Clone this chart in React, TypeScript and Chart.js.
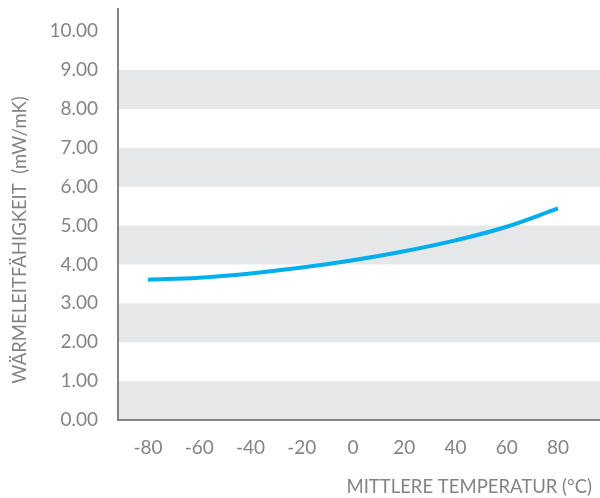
import React, { useEffect, useRef } from "react";
import { Chart, registerables } from "chart.js";

Chart.register(...registerables);

const temperatures = [-80, -60, -40, -20, 0, 20, 40, 60, 80];
const conductivity = [3.61, 3.66, 3.77, 3.92, 4.11, 4.34, 4.62, 4.97, 5.44];
const xTickValues = [-80, -60, -40, -20, 0, 20, 40, 60, 80];
const yTickValues = [0, 1, 2, 3, 4, 5, 6, 7, 8, 9, 10];
const bandStarts = [0, 2, 4, 6, 8];
const yTitle = "WÄRMELEITFÄHIGKEIT  (mW/mK)";
const xTitle = "MITTLERE TEMPERATUR (°C)";

const FONT = "Lato, 'Open Sans', sans-serif";
const GREY = "#848484";

const bandsPlugin = {
  id: "bands",
  beforeDraw(chart: any) {
    const { ctx, chartArea, scales } = chart;
    const y = scales.y;
    ctx.save();
    ctx.fillStyle = "#e6e7e8";
    for (const b of bandStarts) {
      const top = y.getPixelForValue(b + 1);
      const bottom = y.getPixelForValue(b);
      ctx.fillRect(chartArea.left, top, chartArea.right - chartArea.left, bottom - top);
    }
    ctx.restore();
  },
};

const titlesPlugin = {
  id: "titles",
  afterDraw(chart: any) {
    const { ctx } = chart;
    ctx.save();
    ctx.fillStyle = GREY;
    ctx.font = `18.5px ${FONT}`;
    ctx.textBaseline = "middle";
    ctx.save();
    ctx.translate(20, 240);
    ctx.rotate(-Math.PI / 2);
    ctx.textAlign = "center";
    ctx.fillText(yTitle, 0, 0);
    ctx.restore();
    ctx.textAlign = "right";
    ctx.fillText(xTitle, 592, 487);
    ctx.restore();
  },
};

export default function App() {
  const canvasRef = useRef<HTMLCanvasElement | null>(null);

  useEffect(() => {
    const canvas = canvasRef.current;
    if (!canvas) return;
    const chart = new Chart(canvas, {
      type: "line",
      data: {
        datasets: [
          {
            data: temperatures.map((t, i) => ({ x: t, y: conductivity[i] })),
            borderColor: "#00aeef",
            borderWidth: 4,
            pointRadius: 0,
            tension: 0.4,
            fill: false,
            borderCapStyle: "butt",
          },
        ],
      },
      options: {
        animation: false,
        responsive: false,
        maintainAspectRatio: false,
        layout: { padding: { top: 9, left: 0, right: 0, bottom: 0 } },
        plugins: {
          legend: { display: false },
          tooltip: { enabled: false },
        },
        scales: {
          x: {
            type: "linear",
            min: -91.7,
            max: 96.4,
            afterBuildTicks: (scale: any) => {
              scale.ticks = xTickValues.map((v) => ({ value: v }));
            },
            afterFit: (scale: any) => {
              scale.height = 78;
              scale.paddingLeft = 0;
              scale.paddingRight = 0;
              scale.paddingTop = 0;
              scale.paddingBottom = 0;
            },
            grid: { display: false, drawTicks: false },
            border: { display: true, color: GREY, width: 2 },
            ticks: {
              color: GREY,
              font: { family: FONT, size: 19 },
              padding: 16,
              maxRotation: 0,
              autoSkip: false,
              callback: (v: any) => String(v),
            },
          },
          y: {
            type: "linear",
            min: 0,
            max: 10.57,
            afterBuildTicks: (scale: any) => {
              scale.ticks = yTickValues.map((v) => ({ value: v }));
            },
            afterFit: (scale: any) => {
              scale.width = 118;
              scale.paddingLeft = 0;
              scale.paddingRight = 0;
              scale.paddingTop = 0;
              scale.paddingBottom = 0;
            },
            grid: { display: false, drawTicks: false },
            border: { display: true, color: GREY, width: 2 },
            ticks: {
              color: GREY,
              font: { family: FONT, size: 19 },
              padding: 20,
              autoSkip: false,
              callback: (v: any) => Number(v).toFixed(2),
            },
          },
        },
      },
      plugins: [bandsPlugin, titlesPlugin],
    } as any);
    return () => chart.destroy();
  }, []);

  return (
    <div style={{ position: "fixed", left: 0, top: 0, width: 600, height: 498, background: "#fff" }}>
      <canvas ref={canvasRef} width={600} height={498} style={{ width: 600, height: 498, display: "block" }} />
    </div>
  );
}
